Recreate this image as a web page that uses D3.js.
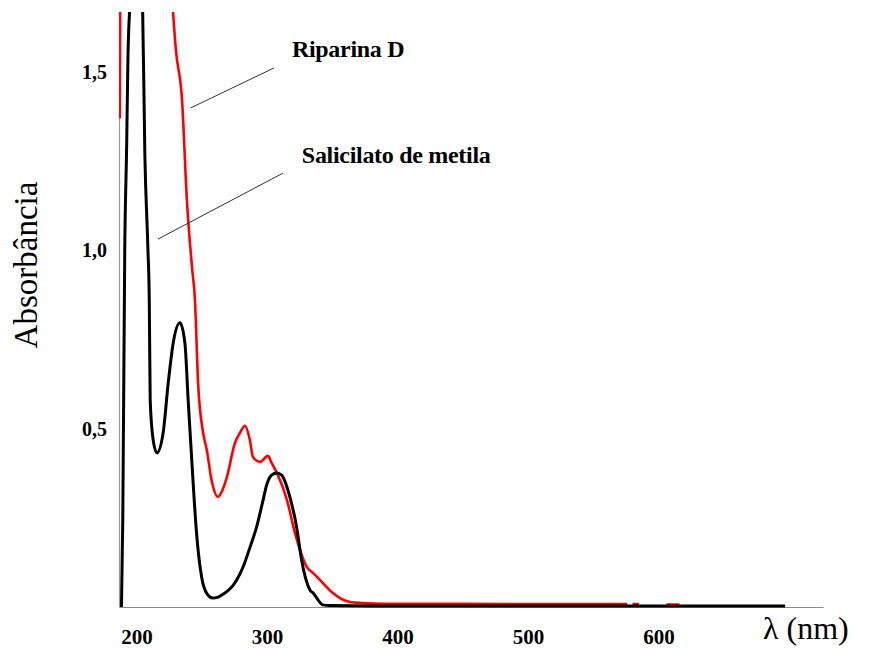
<!DOCTYPE html>
<html>
<head>
<meta charset="utf-8">
<script src="https://cdn.jsdelivr.net/npm/d3@7"></script>
<style>
  html, body { margin: 0; padding: 0; background: #fff; }
  svg { display: block; }
</style>
</head>
<body>
<svg id="chart" width="870" height="648"></svg>
<script>
// ---- data (wavelength nm, absorbance) ----
const seriesNames = ["Riparina D", "Salicilato de metila"];

const riparinaD = [
  [187.2, 1.37], [187.6, 1.80], null,
  [226.0, 1.78], [230.2, 1.562], [234.9, 1.422], [238.6, 1.142], [242.5, 0.954],
  [244.8, 0.861], [247.2, 0.628], [251.1, 0.488], [253.9, 0.440], [257.5, 0.356],
  [262.4, 0.309], [265.5, 0.325], [269.3, 0.365], [275.4, 0.460], [279.2, 0.488],
  [283.1, 0.508], [286.9, 0.468], [289.2, 0.421], [294.6, 0.407], [300.7, 0.424],
  [303.5, 0.404], [307.6, 0.376], [315.3, 0.300], [321.4, 0.208], [330.6, 0.112],
  [335.4, 0.095], [340.5, 0.076], [350.5, 0.039], [355.9, 0.025], [363.5, 0.014],
  [373.5, 0.011], [390, 0.009], [450, 0.009], [520, 0.008], [576, 0.008], null,
  [580, 0.008], [585, 0.008], null,
  [606, 0.007], [616, 0.007]
];

const salicilatoMetila = [
  [188.5, 0.0], [189.5, 0.25], [191.0, 1.0], [192.5, 1.30], [193.5, 1.55],
  [195.5, 1.72], [200.0, 1.95], [204.5, 1.72], [206.4, 1.27], [208.7, 1.01],
  [209.8, 0.86], [210.5, 0.58], [212.8, 0.468], [215.6, 0.432], [220.4, 0.488],
  [224.3, 0.628], [228.1, 0.740], [233.3, 0.797], [237.1, 0.740], [239.6, 0.580],
  [243.4, 0.348], [246.0, 0.208], [249.9, 0.084], [253.7, 0.039], [258.5, 0.025],
  [262.0, 0.027], [266.4, 0.036], [273.9, 0.060], [279.2, 0.092], [283.0, 0.125],
  [287.0, 0.168], [292.0, 0.224], [297.0, 0.300], [299.7, 0.342], [303.5, 0.370],
  [307.6, 0.376], [311.2, 0.370], [317.5, 0.309], [322.7, 0.224], [326.5, 0.132],
  [332.9, 0.048], [335.4, 0.039], [342.8, 0.006], [348.0, 0.004], [400, 0.003],
  [500, 0.003], [600, 0.003], [697, 0.003]
];

const xTicks = [200, 300, 400, 500, 600];
const yTicks = [0.5, 1.0, 1.5];
const yTickLabels = ["0,5", "1,0", "1,5"];

// annotation anchors in data units: label position, leader start, leader end
const annRiparina = { text: seriesNames[0], label: [319.1, 1.543], from: [305.3, 1.512], to: [241.6, 1.400] };
const annSalicilato = { text: seriesNames[1], label: [326.7, 1.245], from: [312.2, 1.217], to: [216.5, 1.032] };

// ---- layout ----
const serif = "'Liberation Serif', 'Times New Roman', serif";
const svg = d3.select("#chart");
const x = d3.scaleLinear().domain([186.6, 726.0]).range([119, 823]);
const y = d3.scaleLinear().domain([0, 1.669]).range([607, 12]);

svg.append("defs").append("clipPath").attr("id", "plotclip")
  .append("rect").attr("x", 119).attr("y", 12).attr("width", 704).attr("height", 598);

// axes
const xAxis = d3.axisBottom(x).tickValues(xTicks).tickSize(0).tickSizeOuter(0).tickPadding(22)
  .tickFormat(d3.format("d"));
const gx = svg.append("g").attr("transform", "translate(0,607)").call(xAxis);
gx.attr("font-family", serif);
gx.select(".domain").attr("stroke", "#8a8a8a").attr("stroke-width", 1.2);
gx.selectAll("text").attr("font-family", serif)
  .attr("font-weight", "bold").attr("font-size", 21).attr("fill", "#000");

const yAxis = d3.axisLeft(y).tickValues(yTicks).tickSize(0).tickSizeOuter(0).tickPadding(12)
  .tickFormat((d, i) => yTickLabels[i]);
const gy = svg.append("g").attr("transform", "translate(119,0)").call(yAxis);
gy.attr("font-family", serif);
gy.select(".domain").attr("stroke", "#9a9a9a").attr("stroke-width", 1.2);
gy.selectAll("text").attr("font-family", serif)
  .attr("font-weight", "bold").attr("font-size", 20).attr("fill", "#000");

// curves
const line = d3.line()
  .defined(d => d !== null)
  .x(d => x(d[0])).y(d => y(d[1]))
  .curve(d3.curveMonotoneX);

const plot = svg.append("g").attr("clip-path", "url(#plotclip)");
plot.append("path").datum(riparinaD)
  .attr("fill", "none").attr("stroke", "#ff0000").attr("stroke-width", 2.6)
  .attr("stroke-linejoin", "round").attr("d", line);
plot.append("path").datum(salicilatoMetila)
  .attr("fill", "none").attr("stroke", "#000").attr("stroke-width", 3)
  .attr("stroke-linejoin", "round").attr("d", line);

// annotations
[annRiparina, annSalicilato].forEach(a => {
  svg.append("line")
    .attr("x1", x(a.from[0])).attr("y1", y(a.from[1]))
    .attr("x2", x(a.to[0])).attr("y2", y(a.to[1]))
    .attr("stroke", "#333").attr("stroke-width", 1);
  svg.append("text")
    .attr("x", x(a.label[0])).attr("y", y(a.label[1]))
    .attr("font-family", serif)
    .attr("font-weight", "bold").attr("font-size", 24).attr("letter-spacing", -0.3)
    .attr("fill", "#000").text(a.text);
});

// axis titles
svg.append("text")
  .attr("transform", "translate(37,265) rotate(-90)")
  .attr("text-anchor", "middle")
  .attr("font-family", serif)
  .attr("font-size", 33).attr("fill", "#000")
  .text("Absorbância");

svg.append("text")
  .attr("x", 763).attr("y", 639)
  .attr("font-family", serif)
  .attr("font-size", 32).attr("fill", "#000")
  .text("λ (nm)");
</script>
</body>
</html>
